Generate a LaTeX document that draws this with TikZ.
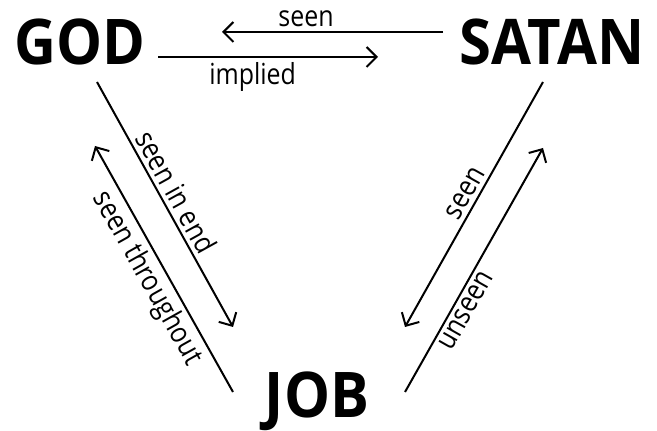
\documentclass[tikz,border=0pt]{standalone}
\usepackage{fontspec}
\setmainfont{Open Sans}
\newfontfamily\titlefont[FakeStretch=0.92]{Open Sans}
\newfontfamily\labfont[FakeStretch=0.86]{Open Sans}
\usetikzlibrary{calc,arrows.meta}
\tikzset{
  ar/.style={-{Straight Barb[length=5pt,width=10pt]},line width=1pt},
  ra/.style={{Straight Barb[length=5pt,width=10pt]}-,line width=1pt},
  who/.style={font=\fontsize{31.5}{32}\titlefont\bfseries,inner sep=0pt,anchor=base},
  lab/.style={font=\fontsize{14.5}{15}\labfont,inner sep=2pt}
}
\begin{document}
\begin{tikzpicture}[x=0.5pt,y=-0.5pt]
\useasboundingbox (0,0) rectangle (657,431);
\node[who] (god) at (80,65) {GOD};
\node[who] (satan) at (552,65) {SATAN};
\node[who] (job) at (317,418) {JOB};
\coordinate (gs1) at ($(satan.base)+(-109,-33)$);
\coordinate (gs2) at ($(god.base)+(142,-33)$);
\coordinate (gi1) at ($(god.base)+(78,-8)$);
\coordinate (gi2) at ($(satan.base)+(-174,-8)$);
\coordinate (ge1) at ($(god.base)+(17,17)$);
\coordinate (ge2) at ($(job.base)+(-84,-91)$);
\coordinate (gt1) at ($(god.base)+(15,81)$);
\coordinate (gt2) at ($(job.base)+(-84,-26)$);
\coordinate (ss1) at ($(job.base)+(88,-91)$);
\coordinate (ss2) at ($(satan.base)+(-9,17)$);
\coordinate (su1) at ($(job.base)+(88,-26)$);
\coordinate (su2) at ($(satan.base)+(-9,83)$);
\draw[ar] (gs1) -- (gs2) node[lab,pos=0.62,above] {seen};
\draw[ar] (gi1) -- (gi2) node[lab,pos=0.43,below] {implied};
\draw[ar] (ge1) -- (ge2) node[lab,pos=0.48,above,sloped] {seen in end};
\draw[ra] (gt1) -- (gt2) node[lab,pos=0.5,below,sloped] {seen throughout};
\draw[ra] (ss1) -- (ss2) node[lab,pos=0.52,above,sloped] {seen};
\draw[ar] (su1) -- (su2) node[lab,pos=0.36,below,sloped] {unseen};
\end{tikzpicture}
\end{document}
